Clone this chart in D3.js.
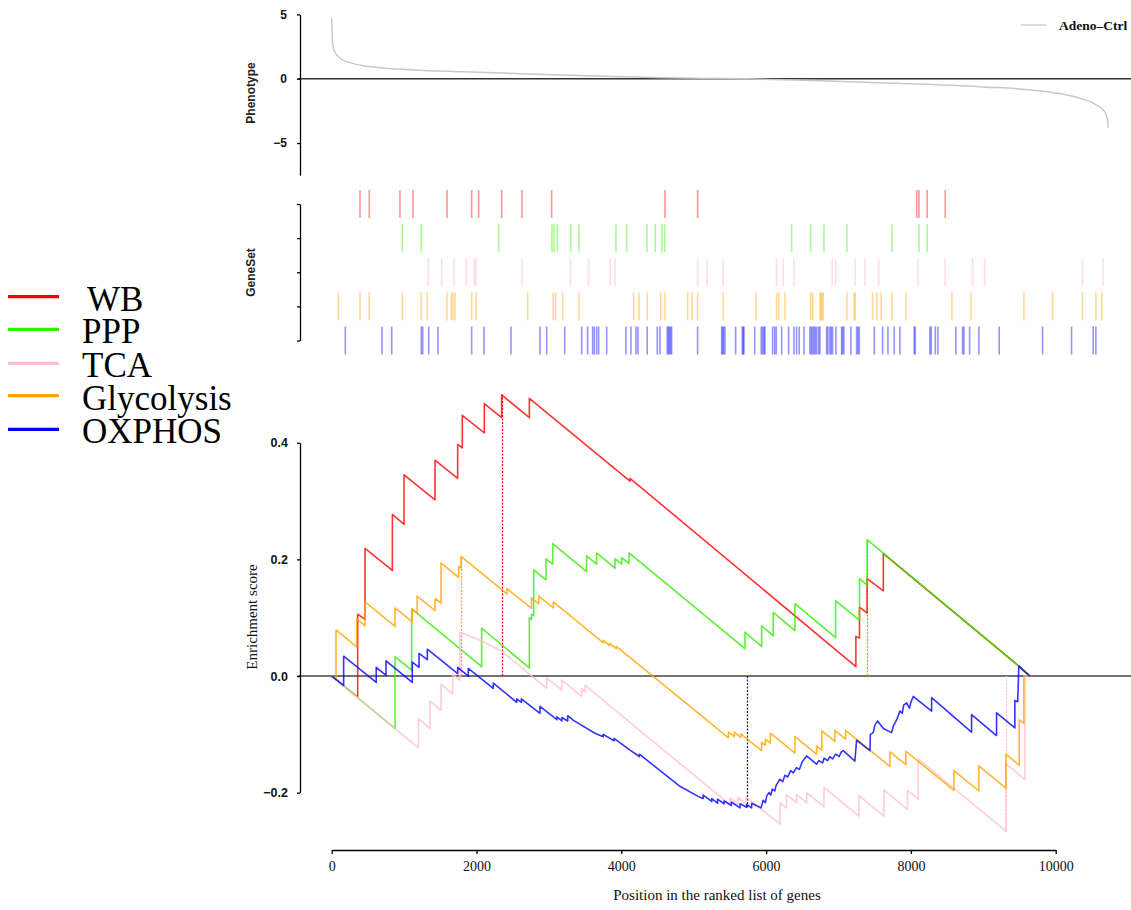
<!DOCTYPE html>
<html><head><meta charset="utf-8">
<script src="https://cdn.jsdelivr.net/npm/d3@7"></script>
<style>body{margin:0;background:#fff}</style>
</head><body><svg id="c" width="1131" height="910"></svg>
<script>
// ---------- data ----------
const setNames = ["WB", "PPP", "TCA", "Glycolysis", "OXPHOS"];
const setColors = ["#ff0000", "#33ee00", "#ffc0cb", "#ffa500", "#0000ff"];
const phenoLegend = "Adeno\u2013Ctrl";

const phenoRanks  = [0, 9, 32, 115, 253, 437, 667, 1128, 1818, 2739, 3659, 4580, 5731, 6600, 7572, 8953, 9874, 10334, 10564, 10679, 10716, 10725];
const phenoValues = [4.7, 3.0, 2.23, 1.59, 1.25, 1.01, 0.86, 0.68, 0.54, 0.37, 0.21, 0.08, 0, -0.14, -0.31, -0.62, -1.01, -1.52, -2.05, -2.57, -3.2, -3.8];

const wbHits  = [391,519,943,1123,1592,1933,2030,2348,2628,3038,4603,5054,8079,8111,8225,8474];
const pppHits = [975,1237,2306,3042,3070,3116,3301,3415,3926,4074,4354,4469,4561,4599,6353,6615,6799,7116,7738,8111,8225];
const tcaHits = [1334,1519,1689,1859,1969,1993,2628,3301,3549,3847,3912,5054,5183,5408,6145,6237,6384,6913,6964,7231,7365,7554,8097,8474,8852,9018,10371,10652];
const glyHits = [91,391,519,975,1237,1320,1592,1652,1675,1703,1933,1993,2707,3060,3093,3190,3415,4171,4244,4358,4544,4603,4916,4976,5054,5408,5860,6145,6177,6260,6615,6643,6743,6757,6771,6789,7116,7213,7231,7471,7531,7590,7738,7931,8566,8829,9561,9957,10371,10555,10638];
const oxHits  = [188,695,829,1237,1257,1340,1468,1933,2103,2476,2877,2969,3218,3453,3535,3604,3627,3660,3687,3798,4064,4133,4202,4230,4358,4497,4534,4635,4650,4665,4680,4695,5054,5386,5400,5413,5432,5579,5671,5685,5694,5842,5933,5952,5970,5984,6090,6118,6140,6215,6311,6384,6421,6458,6523,6605,6624,6642,6661,6679,6698,6725,6743,6836,6854,6882,6900,6918,6964,7043,7056,7075,7171,7250,7268,7287,7494,7609,7683,7770,7848,8046,8060,8262,8281,8337,8373,8621,8714,8732,8811,8939,9220,9819,10219,10518,10555];

const wbES = [[0,0],[359,-0.036],[359,0.106],[460,0.097],[460,0.219],[838,0.181],[838,0.277],[999,0.260],[999,0.345],[1427,0.302],[1427,0.370],[1740,0.339],[1740,0.397],[1804,0.391],[1804,0.447],[2108,0.417],[2108,0.467],[2347,0.443],[2347,0.482],[2730,0.443],[2730,0.476],[4120,0.334],[4120,0.339],[7240,0.016],[7240,0.068],[7290,0.065],[7290,0.118],[7395,0.108],[7395,0.167],[7619,0.146],[7619,0.210],[9491,0.017],[9643,0]];
const pppES = [[0,0],[875,-0.090],[875,0.033],[1105,0.010],[1105,0.115],[2071,0.016],[2071,0.082],[2730,0.014],[2730,0.100],[2760,0.097],[2760,0.106],[2790,0.103],[2790,0.182],[2960,0.165],[2960,0.201],[3052,0.192],[3052,0.227],[3521,0.179],[3521,0.206],[3659,0.192],[3659,0.211],[3913,0.185],[3913,0.201],[4005,0.192],[4005,0.203],[4106,0.193],[4106,0.211],[5708,0.047],[5708,0.075],[5938,0.051],[5938,0.086],[6099,0.069],[6099,0.109],[6398,0.078],[6398,0.124],[6960,0.066],[6960,0.129],[7290,0.096],[7290,0.167],[7395,0.156],[7395,0.234],[9491,0.017],[9643,0]];
const tcaES = [[0,0],[1197,-0.123],[1197,-0.073],[1358,-0.090],[1358,-0.043],[1510,-0.059],[1510,-0.014],[1671,-0.031],[1671,0.003],[1772,-0.007],[1772,0.075],[2071,0.060],[2347,0.043],[2762,0.000],[2969,-0.021],[2969,-0.003],[3176,-0.024],[3176,-0.007],[3452,-0.035],[3452,-0.022],[3500,-0.027],[3500,-0.016],[4810,-0.150],[5500,-0.220],[5500,-0.209],[5610,-0.220],[5610,-0.208],[5720,-0.219],[5720,-0.207],[6192,-0.254],[6192,-0.217],[6280,-0.226],[6280,-0.203],[6420,-0.217],[6420,-0.203],[6560,-0.217],[6560,-0.200],[6799,-0.224],[6799,-0.191],[7282,-0.240],[7282,-0.205],[7627,-0.240],[7627,-0.195],[7954,-0.229],[7954,-0.196],[8101,-0.211],[8101,-0.142],[9312,-0.266],[9312,-0.150],[9574,-0.177],[9574,0],[9643,0]];
const glyES = [[0,0],[60,-0.006],[60,0.079],[345,0.050],[345,0.098],[460,0.086],[460,0.127],[875,0.085],[875,0.117],[1114,0.093],[1114,0.115],[1180,0.108],[1180,0.137],[1427,0.112],[1427,0.133],[1510,0.125],[1510,0.194],[1754,0.169],[1754,0.188],[1786,0.185],[1786,0.205],[2420,0.141],[2420,0.150],[2760,0.116],[2760,0.134],[2860,0.124],[2860,0.137],[3061,0.117],[3061,0.127],[3751,0.057],[3751,0.061],[3840,0.052],[3840,0.056],[3930,0.047],[3930,0.051],[4810,-0.038],[5480,-0.106],[5480,-0.096],[5560,-0.104],[5560,-0.096],[5650,-0.105],[5650,-0.099],[5938,-0.128],[5938,-0.114],[5990,-0.119],[5990,-0.108],[6060,-0.115],[6060,-0.098],[6398,-0.132],[6398,-0.104],[6697,-0.134],[6697,-0.120],[6770,-0.127],[6770,-0.094],[6950,-0.112],[6950,-0.093],[7098,-0.108],[7098,-0.093],[7710,-0.155],[7710,-0.130],[7931,-0.152],[7931,-0.129],[8594,-0.196],[8594,-0.162],[8939,-0.197],[8939,-0.154],[9312,-0.192],[9312,-0.134],[9496,-0.153],[9496,-0.075],[9560,-0.081],[9560,0],[9643,0]];
const oxES = [[0,0],[165,-0.016],[165,0.034],[615,-0.011],[615,0.015],[750,0.001],[750,0.026],[1113,-0.011],[1113,0.024],[1206,0.015],[1206,0.039],[1321,0.028],[1321,0.046],[1740,0.004],[1740,0.015],[1887,0.000],[1887,0.013],[2232,-0.021],[2232,-0.012],[2555,-0.045],[2555,-0.039],[2620,-0.045],[2620,-0.039],[2877,-0.064],[2877,-0.052],[3084,-0.072],[3110,-0.075],[3110,-0.070],[3180,-0.077],[3180,-0.071],[3260,-0.077],[3260,-0.068],[3340,-0.076],[3636,-0.098],[3750,-0.104],[3750,-0.100],[3900,-0.111],[3900,-0.107],[4120,-0.127],[4250,-0.138],[4250,-0.134],[4810,-0.189],[5086,-0.208],[5130,-0.210],[5130,-0.204],[5250,-0.215],[5250,-0.210],[5330,-0.218],[5330,-0.211],[5420,-0.219],[5420,-0.214],[5520,-0.222],[5520,-0.216],[5640,-0.226],[5640,-0.219],[5731,-0.225],[5731,-0.220],[5800,-0.226],[5800,-0.218],[5930,-0.226],[5960,-0.213],[5990,-0.217],[6010,-0.205],[6040,-0.200],[6065,-0.204],[6085,-0.194],[6120,-0.197],[6140,-0.187],[6192,-0.177],[6230,-0.181],[6260,-0.170],[6300,-0.173],[6340,-0.162],[6375,-0.166],[6420,-0.157],[6460,-0.160],[6500,-0.147],[6559,-0.137],[6697,-0.151],[6730,-0.145],[6780,-0.149],[6800,-0.141],[6850,-0.145],[6880,-0.138],[6920,-0.142],[6960,-0.134],[7010,-0.138],[7040,-0.130],[7066,-0.128],[7226,-0.146],[7250,-0.110],[7434,-0.128],[7440,-0.100],[7480,-0.097],[7500,-0.085],[7540,-0.077],[7620,-0.090],[7733,-0.097],[7760,-0.085],[7790,-0.078],[7810,-0.073],[7848,-0.060],[7880,-0.064],[7900,-0.050],[7940,-0.046],[7980,-0.055],[8000,-0.045],[8032,-0.035],[8286,-0.060],[8286,-0.037],[8838,-0.096],[8838,-0.066],[9183,-0.102],[9183,-0.063],[9436,-0.089],[9436,-0.042],[9475,-0.044],[9491,0.017],[9643,0]];

const peakRanks = [2347, 7395, 9312, 1786, 5731];
const peakES    = [0.482, 0.234, -0.266, 0.205, -0.225];

const xTicks = [0, 2000, 4000, 6000, 8000, 10000];
const esTicks = [-0.2, 0, 0.2, 0.4];
const phenoTicks = [-5, 0, 5];

const hitsBySet = [wbHits, pppHits, tcaHits, glyHits, oxHits];
const esBySet = [wbES, pppES, tcaES, glyES, oxES];

// ---------- drawing ----------
const SERIF = "'Liberation Serif','Times New Roman',serif";
const SANS = "'Liberation Sans',Arial,sans-serif";
const svg = d3.select("#c");
svg.append("rect").attr("width",1131).attr("height",910).attr("fill","#fff");

const x = d3.scaleLinear().domain([0, 10000]).range([331.7, 1055.7]);
const yP = d3.scaleLinear().domain([-7.5, 5]).range([175.2, 14.4]);
const yE = d3.scaleLinear().domain([-0.2, 0.4]).range([792.7, 442.7]);
const yRow = d3.scalePoint().domain(setNames).range([204, 340.5]);

function styleAxis(g, font, size, weight) {
  g.select(".domain").attr("stroke", "#000").attr("stroke-width", 1.3);
  g.selectAll(".tick line").attr("stroke", "#000").attr("stroke-width", 1.3);
  g.selectAll(".tick text").attr("font-family", font).attr("font-size", size)
    .attr("font-weight", weight).attr("fill", "#111");
}

// ---- phenotype panel ----
svg.append("line").attr("x1", 298).attr("x2", 1131)
  .attr("y1", yP(0)).attr("y2", yP(0)).attr("stroke", "#333").attr("stroke-width", 1.5);
const phenoPts = phenoRanks.map((r, i) => [r, phenoValues[i]]);
svg.append("path").datum(phenoPts)
  .attr("d", d3.line().x(d => x(d[0])).y(d => yP(d[1])).curve(d3.curveMonotoneX))
  .attr("fill", "none").attr("stroke", "#c8c8c8").attr("stroke-width", 1.5);
const gP = svg.append("g").attr("transform", "translate(300,0)")
  .call(d3.axisLeft(yP).tickValues(phenoTicks).tickFormat(d3.format("d")).tickSize(3).tickSizeOuter(0).tickPadding(10));
styleAxis(gP, SANS, 12, "bold");
svg.append("text").attr("transform", "translate(255,93) rotate(-90)")
  .attr("text-anchor", "middle").attr("font-family", SANS).attr("font-weight", "bold")
  .attr("font-size", 12).attr("fill", "#222").text("Phenotype");
// phenotype legend
svg.append("line").attr("x1", 1020.7).attr("x2", 1046).attr("y1", 25).attr("y2", 25)
  .attr("stroke", "#c8c8c8").attr("stroke-width", 1.3);
svg.append("text").attr("x", 1059).attr("y", 30).attr("font-family", SERIF)
  .attr("font-weight", "bold").attr("font-size", 13.5).attr("fill", "#111").text(phenoLegend);

// ---- gene set rug ----
const gR = svg.append("g").attr("transform", "translate(300,0)")
  .call(d3.axisLeft(yRow).tickSize(3).tickSizeOuter(0).tickFormat(""));
styleAxis(gR, SANS, 10, "normal");
setNames.forEach((name, i) => {
  svg.append("g").selectAll("line").data(hitsBySet[i]).join("line")
    .attr("x1", d => x(d)).attr("x2", d => x(d))
    .attr("y1", yRow(name) - 14).attr("y2", yRow(name) + 14)
    .attr("stroke", setColors[i]).attr("stroke-opacity", i === 2 ? 0.5 : 0.42)
    .attr("stroke-width", 1.6);
});
svg.append("text").attr("transform", "translate(255,272.5) rotate(-90)")
  .attr("text-anchor", "middle").attr("font-family", SANS).attr("font-weight", "bold")
  .attr("font-size", 12).attr("fill", "#222").text("GeneSet");

// ---- enrichment panel ----
svg.append("line").attr("x1", 298).attr("x2", 1131)
  .attr("y1", yE(0)).attr("y2", yE(0)).attr("stroke", "#444").attr("stroke-width", 1.5);
const line = d3.line().x(d => x(d[0])).y(d => yE(d[1]));
setNames.forEach((name, i) => {
  const px = Math.round(x(peakRanks[i])) + 0.5;
  svg.append("line").attr("x1", px).attr("x2", px)
    .attr("y1", yE(0)).attr("y2", yE(peakES[i]))
    .attr("stroke", setColors[i]).attr("stroke-width", 1.2).attr("stroke-dasharray", "2,1.5");
});
setNames.forEach((name, i) => {
  svg.append("path").datum(esBySet[i]).attr("d", line)
    .attr("fill", "none").attr("stroke", setColors[i]).attr("stroke-opacity", 0.8)
    .attr("stroke-width", 1.6).attr("stroke-linejoin", "round");
});
const gE = svg.append("g").attr("transform", "translate(300,0)")
  .call(d3.axisLeft(yE).tickValues(esTicks).tickFormat(d3.format(".1f")).tickSize(3).tickSizeOuter(0).tickPadding(9));
styleAxis(gE, SANS, 12.5, "bold");
svg.append("text").attr("transform", "translate(257,617) rotate(-90)")
  .attr("text-anchor", "middle").attr("font-family", SERIF)
  .attr("font-size", 15).attr("fill", "#111").text("Enrichment score");

const gX = svg.append("g").attr("transform", "translate(0,850)")
  .call(d3.axisBottom(x).tickValues(xTicks).tickFormat(d3.format("d")).tickSize(4).tickSizeOuter(0).tickPadding(7));
styleAxis(gX, SERIF, 14, "normal");
svg.append("text").attr("x", 717).attr("y", 900).attr("text-anchor", "middle")
  .attr("font-family", SERIF).attr("font-size", 15).attr("fill", "#111")
  .text("Position in the ranked list of genes");

// ---- left legend ----
const legY = [296.7, 329.3, 363.3, 395.7, 429.3];
setNames.forEach((name, i) => {
  svg.append("line").attr("x1", 8).attr("x2", 59).attr("y1", legY[i]).attr("y2", legY[i])
    .attr("stroke", setColors[i]).attr("stroke-width", 3.2);
  svg.append("text").attr("x", i === 0 ? 87 : 82).attr("y", legY[i] + 14)
    .attr("font-family", SERIF).attr("font-size", 35).attr("fill", "#000").text(name);
});
</script></body></html>
